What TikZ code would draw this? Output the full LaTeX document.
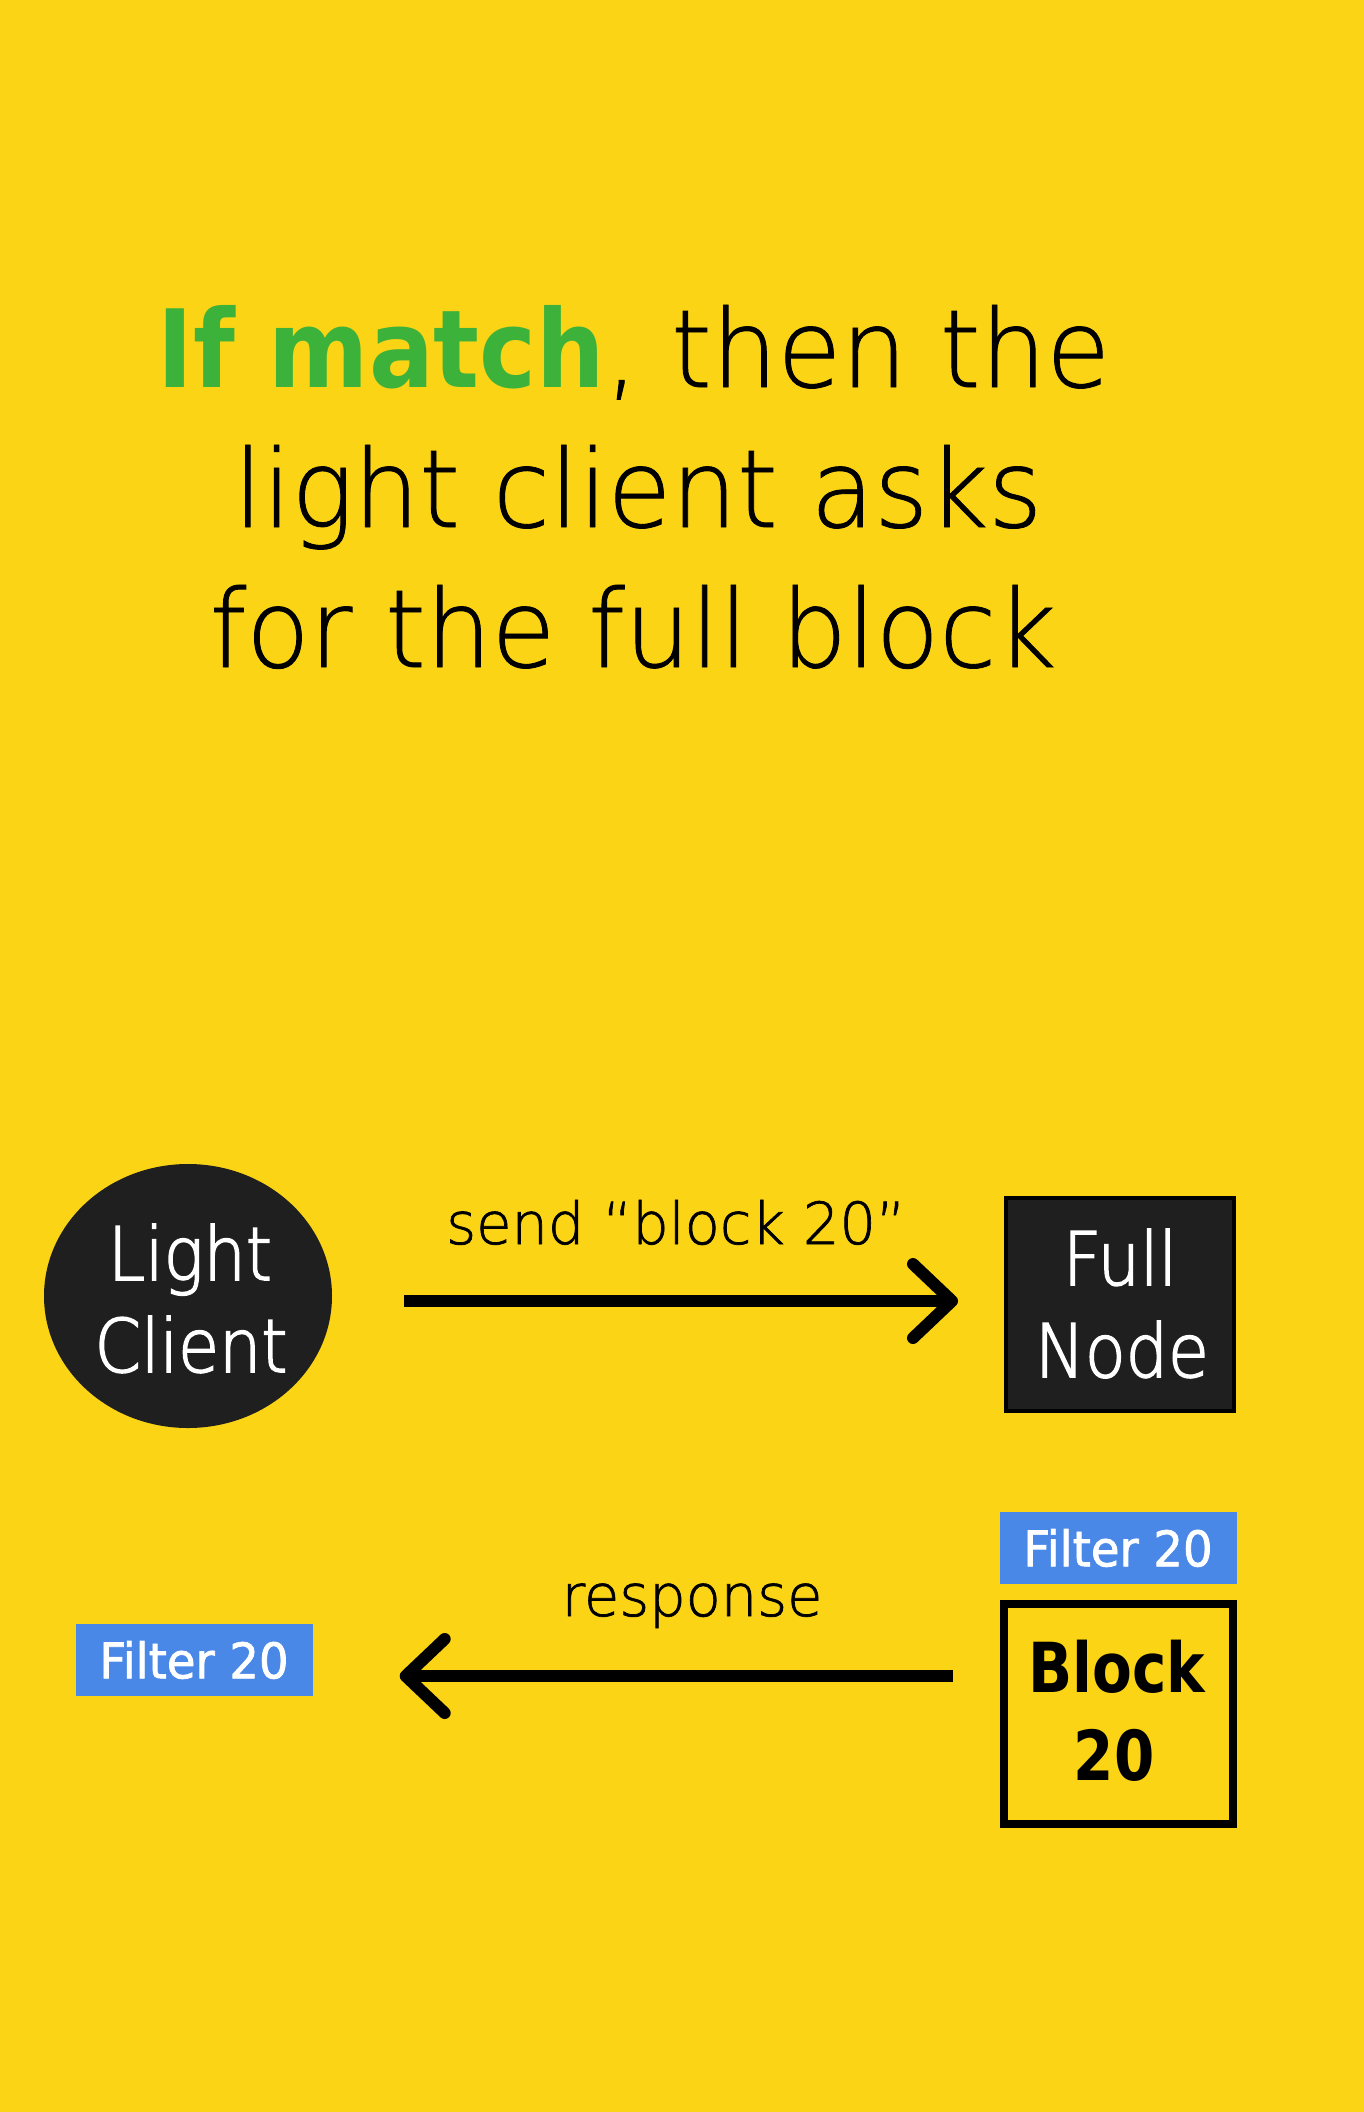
\documentclass[tikz,border=0pt]{standalone}
\usepackage{fontspec}
\usetikzlibrary{shapes.geometric,calc}
\newfontfamily\headfont[FakeStretch=0.96,FakeBold=0.8]{DejaVuSans-ExtraLight.ttf}
\newfontfamily\headbold[FakeStretch=0.89]{DejaVu Sans Bold}
\newfontfamily\msgfont[FakeStretch=0.99,FakeBold=1.2]{DejaVuSans-ExtraLight.ttf}
\newfontfamily\nodefont[FakeStretch=0.9,FakeBold=2]{DejaVuSans-ExtraLight.ttf}
\newfontfamily\boldnarrow[FakeStretch=0.84]{DejaVu Sans Bold}
\newfontfamily\tagfont[FakeStretch=0.95,FakeBold=1.5]{DejaVu Sans}
\definecolor{bg}{HTML}{FBD415}
\definecolor{hit}{HTML}{3DB23B}
\definecolor{ink}{HTML}{1F1F1F}
\definecolor{tagblue}{HTML}{4A88E8}
\begin{document}
\begin{tikzpicture}[x=1pt,y=-1pt,
  headline/.style={anchor=base,inner sep=0pt,font=\headfont\fontsize{108}{140}\selectfont},
  nodetext/.style={anchor=base,inner sep=0pt,text=white,font=\nodefont\fontsize{74}{92}\selectfont},
  msg/.style={anchor=base,inner sep=0pt,font=\msgfont\fontsize{58}{70}\selectfont},
  blocktext/.style={anchor=base,inner sep=0pt,font=\boldnarrow\fontsize{69}{88}\selectfont},
  tag/.style={fill=tagblue,minimum width=237pt,minimum height=72pt,inner sep=0pt,
    text=white,font=\tagfont\fontsize{49}{58}\selectfont},
  shaft/.style={line width=12pt,line cap=butt},
  chevron/.style={line width=12pt,line cap=round,line join=round}]
\fill[bg] (0,0) rectangle (1364,2112);
\useasboundingbox (0,0) rectangle (1364,2112);

% heading
\node[headline] (h1) at (634,387) {{\headbold\color{hit}If match}, then the};
\node[headline] (h2) at (638,527) {light client asks};
\node[headline] (h3) at (633,667) {for the full block};

% light client
\node[ellipse,fill=ink,minimum width=288pt,minimum height=264pt,inner sep=0pt] (lc) at (188,1296) {};
\node[nodetext] (lc1) at (190,1280) {Light};
\node[nodetext] (lc2) at (191,1372) {Client};

% full node
\node[draw=black,line width=4pt,fill=ink,minimum width=228pt,minimum height=213pt,inner sep=0pt] (fn) at (1120,1304) {};
\node[nodetext] (fn1) at (1120,1285) {Full};
\node[nodetext] (fn2) at (1122,1377) {Node};

% filters and block
\node[tag] (tagR) at (1118,1548) {Filter 20};
\node[draw=black,line width=8pt,minimum width=229pt,minimum height=220pt,inner sep=0pt] (blk) at (1118,1714) {};
\node[blocktext] (blk1) at (1117,1692) {Block};
\node[blocktext] (blk2) at (1114,1780) {20};
\node[tag] (tagL) at (194,1660) {Filter 20};

% request arrow
\coordinate (reqA) at ($(lc.east)+(72,5)$);
\coordinate (reqB) at ($(fn.west)+(-52,-3)$);
\draw[shaft] (reqA) -- (reqB);
\draw[chevron] ($(reqB)+(-39,-37)$) -- (reqB) -- ($(reqB)+(-39,37)$);
\node[msg] (reqlabel) at (676,1244) {send “block 20”};

% response arrow
\coordinate (respA) at ($(blk.west)+(-47,-38)$);
\coordinate (respB) at ($(tagL.east)+(93,16)$);
\draw[shaft] (respA) -- (respB);
\draw[chevron] ($(respB)+(39,-37)$) -- (respB) -- ($(respB)+(39,37)$);
\node[msg] (resplabel) at (692,1616) {response};
\end{tikzpicture}
\end{document}
